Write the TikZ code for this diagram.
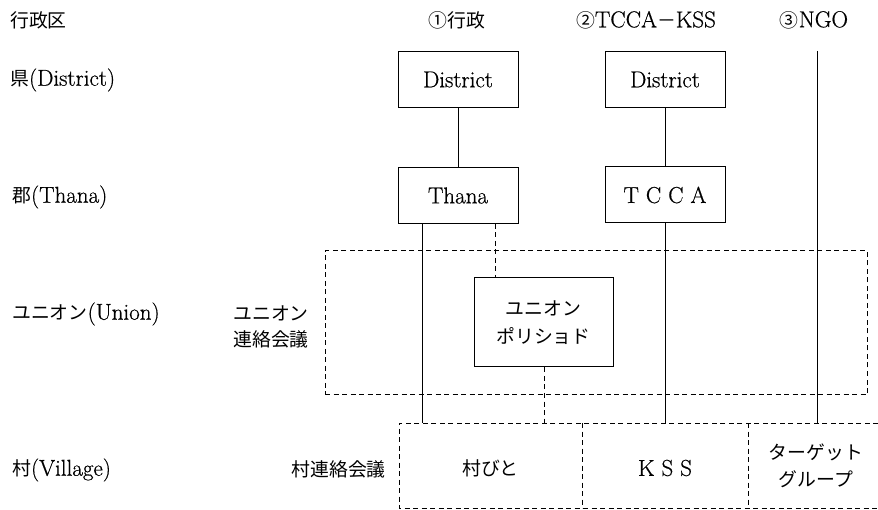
\documentclass[tikz,border=0pt]{standalone}
\usepackage{fontspec}
\setmainfont{Latin Modern Roman}[FakeBold=0.6]
\newfontfamily\jp[Scale=0.82]{Noto Sans CJK JP}
\begin{document}
\begin{tikzpicture}[x=1pt,y=-1pt,
  font=\fontsize{23}{28}\selectfont,
  box/.style={draw, line width=1pt, minimum width=120pt, minimum height=56pt, inner sep=0pt},
  dsh/.style={line width=1pt, dash pattern=on 5pt off 3.5pt},
  ln/.style={line width=1pt},
  lbl/.style={anchor=west, inner sep=0pt},
  txt/.style={inner sep=0pt, align=center}]
\useasboundingbox (0,0) rectangle (878,510);

% headers
\node[lbl] (h0) at (10,20) {\jp 行政区};
\node[txt] (h1) at (457,20) {\jp ①行政};
\node[txt] (h2) at (646,20) {{\jp ②}TCCA{\jp －}KSS};
\node[txt] (h3) at (814,20) {{\jp ③}NGO};

% row labels
\node[lbl] (r1) at (10,80) {{\jp 県}(District)};
\node[lbl] (r2) at (12,197) {{\jp 郡}(Thana)};
\node[lbl] (r3) at (12,314) {{\jp ユニオン}(Union)};
\node[lbl] (r4) at (12,470) {{\jp 村}(Village)};

% boxes
\node[box] (d1) at (458,79.5) {District};
\node[box] (d2) at (665,79.5) {District};
\node[box] (th) at (458,195.5) {Thana};
\node[box] (tc) at (665,195) {T C C A};

% union region
\node[draw, dsh, minimum width=542pt, minimum height=144pt, inner sep=0pt] (ub) at (596,323) {};
\node[draw, line width=1pt, minimum width=139pt, minimum height=89pt, inner sep=0pt, align=center,
      font=\fontsize{23}{28}\selectfont\jp] (pol) at (543.5,322.5) {ユニオン\\ポリショド};
\node[txt, font=\fontsize{23}{26}\selectfont\jp] (ul) at (271,327) {ユニオン\\連絡会議};

% village row
\coordinate (vtl) at (399,423);
\coordinate (vbl) at (399,508);
\coordinate (vtr) at (878,423);
\coordinate (vbr) at (878,508);
\coordinate (s1t) at (582,423);
\coordinate (s1b) at (582,508);
\coordinate (s2t) at (748,423);
\coordinate (s2b) at (748,508);
\draw[dsh] (vtr) -- (vtl) -- (vbl) -- (vbr);
\draw[dsh] (s1t) -- (s1b);
\draw[dsh] (s2t) -- (s2b);

\node[anchor=east, inner sep=0pt] (vl) at (386,469) {\jp 村連絡会議};
\node[txt] (v1) at (490.5,468) {\jp 村びと};
\node[txt] (v2) at (665,468) {K S S};
\node[txt, font=\fontsize{23}{27}\selectfont\jp] (v3) at (816,466) {ターゲット\\グループ};

% connectors
\draw[ln] (d1) -- (th);
\draw[ln] (d2) -- (tc);
\coordinate (ngoT) at (817,51);
\coordinate (ngoB) at (817,423);
\draw[ln] (ngoT) -- (ngoB);
\coordinate (vA) at (422,423);
\draw[ln] (vA |- th.south) -- (vA);
\coordinate (x495) at (495,0);
\draw[dsh] (th.south -| x495) -- (pol.north -| x495);
\coordinate (vB) at (544,423);
\draw[dsh] (pol.south -| vB) -- (vB);
\coordinate (vC) at (665,423);
\draw[ln] (tc.south) -- (vC);
\end{tikzpicture}
\end{document}
